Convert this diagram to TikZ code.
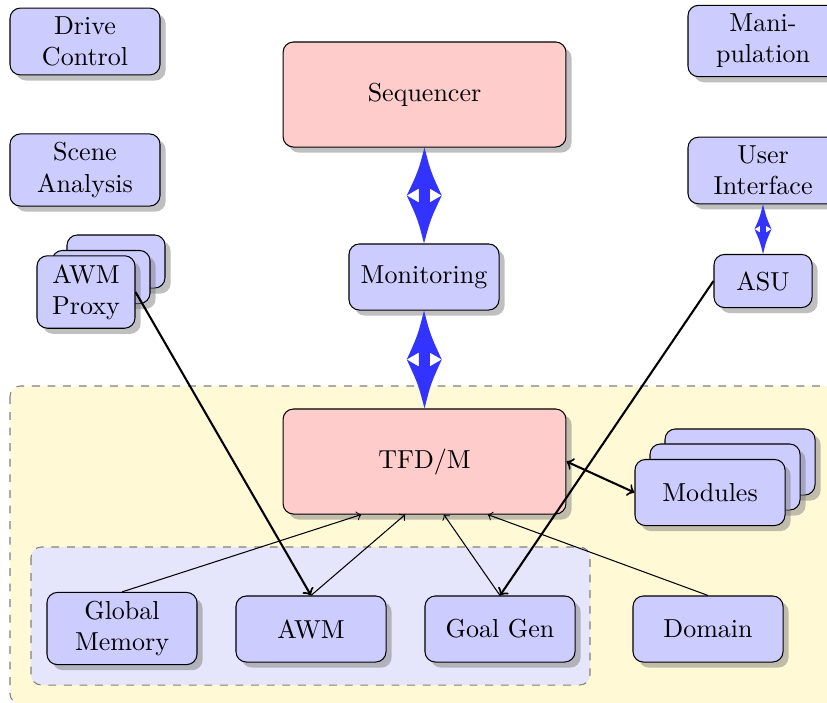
\documentclass[tikz,border=0pt]{standalone}
\usetikzlibrary{shadows,calc}

\definecolor{boxblue}{RGB}{204,204,255}
\definecolor{boxred}{RGB}{255,204,204}
\definecolor{zoneyellow}{RGB}{255,249,214}
\definecolor{zonelilac}{RGB}{229,229,251}
\definecolor{flowblue}{RGB}{51,51,255}

% Vertical double-headed block arrow between two points:
% #1 upper tip, #2 lower tip, #3 half width of the heads,
% #4 half width of the shaft, #5 depth of the notch
\newcommand\blockarrow[5]{%
  \path (#1) coordinate (ba-a) (#2) coordinate (ba-b)
        ($(#1)!0.5!(#2)$) coordinate (ba-m);
  \fill[flow] (ba-a)
    .. controls ($(ba-a)!0.5!(ba-m)+(-0.36*#3,0)$) .. ($(ba-m)+(-#3,0)$)
    -- ($(ba-m)+(-#4,-#5)$) -- ($(ba-m)+(-#4,#5)$) -- ($(ba-m)+(-#3,0)$)
    .. controls ($(ba-b)!0.5!(ba-m)+(-0.36*#3,0)$) .. (ba-b)
    .. controls ($(ba-b)!0.5!(ba-m)+(0.36*#3,0)$) .. ($(ba-m)+(#3,0)$)
    -- ($(ba-m)+(#4,#5)$) -- ($(ba-m)+(#4,-#5)$) -- ($(ba-m)+(#3,0)$)
    .. controls ($(ba-a)!0.5!(ba-m)+(0.36*#3,0)$) .. (ba-a) -- cycle;
}

\begin{document}
\begin{tikzpicture}[x=0.3846pt, y=-0.3846pt,
  shadowed/.style={drop shadow={opacity=0.5}},
  unit/.style={shadowed, draw, rounded corners=4pt, fill=boxblue,
    align=center, minimum width=57.7pt, minimum height=25.4pt,
    inner sep=3.33pt},
  smallunit/.style={unit, minimum width=37.7pt, minimum height=20.4pt},
  core/.style={unit, fill=boxred, minimum width=108.8pt, minimum height=40.4pt},
  zone/.style={draw=gray, dashed, rounded corners=4pt},
  link/.style={->},
  heavylink/.style={thick, ->},
  flow/.style={fill=flowblue}
]
\useasboundingbox (0,0) rectangle (827,702);
\clip (0,0) rectangle (827,702);

% background zones
\draw[zone, fill=zoneyellow] (10,386) rectangle (850,704);
\draw[zone, fill=zonelilac] (31,547) rectangle (590,685);

% left column
\node[unit] (drive) at (85,41.5) {Drive\\Control};
\node[unit] (scene) at (85,170) {Scene\\Analysis};
\node[smallunit] (proxyback) at (116,261.5) {};
\node[smallunit] (proxymid) at (101,277) {};
\node[smallunit] (proxy) at (86,292) {AWM\\Proxy};

% centre column
\node[core] (seq) at (424.5,94.5) {Sequencer};
\node[unit] (mon) at (424,277) {Monitoring};
\node[core] (tfd) at (424.5,461.5) {TFD/M};

% right column
\node[unit] (manip) at (763,41) {Mani-\\pulation};
\node[unit] (ui) at (763,170.5) {User\\Interface};
\node[smallunit] (asu) at (763,281) {ASU};
\node[unit] (modback) at (740,462) {};
\node[unit] (modmid) at (725,477) {};
\node[unit] (mod) at (710,492.5) {Modules};

% bottom row
\node[unit] (gm) at (122,628.5) {Global\\Memory};
\node[unit] (awm) at (311,629) {AWM};
\node[unit] (goal) at (500,629) {Goal Gen};
\node[unit] (dom) at (708,629) {Domain};

% block arrows
\blockarrow{seq.south}{mon.north}{17.5}{5.5}{7}
\blockarrow{mon.south}{tfd.north}{17.5}{5.5}{7}
\blockarrow{ui.south}{asu.north}{8.5}{2.8}{3.5}

% connectors
\draw[heavylink] (proxy.east) -- (awm.north);
\draw[heavylink] (asu.west) -- (goal.north);
\draw[heavylink, <->] (tfd.east) -- (mod.west);
\draw[link] (gm.north) -- (tfd.220);
\draw[link] (awm.north) -- (tfd.250);
\draw[link] (goal.north) -- (tfd.290);
\draw[link] (dom.north) -- (tfd.320);
\end{tikzpicture}
\end{document}
